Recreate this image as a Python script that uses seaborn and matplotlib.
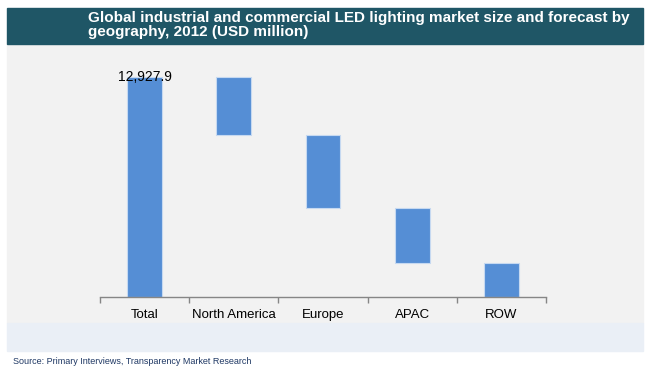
import numpy as np
import pandas as pd
import matplotlib
matplotlib.use('Agg')
import matplotlib.pyplot as plt
import seaborn as sns
from matplotlib.patches import Rectangle

# waterfall data (USD million)
regions = ['Total', 'North America', 'Europe', 'APAC', 'ROW']
total = 12927.9
shares = [3410.0, 4290.0, 3230.0, 1997.9]

# build floating bar bottoms/heights
heights = [total] + shares
bottoms = [0.0]
remaining = total
for s in shares:
    remaining -= s
    bottoms.append(remaining)

df = pd.DataFrame({'region': regions, 'height': heights, 'bottom': bottoms})

sns.set_style('white')
plt.rcParams['font.family'] = ['Liberation Sans', 'DejaVu Sans']

fig = plt.figure(figsize=(6.5, 3.76), dpi=100)
W, H = 650, 376

# background panels
fig.patches.append(Rectangle((7 / W, 1 - 323 / H), 636 / W, 279 / H,
                             transform=fig.transFigure, color='#f2f2f2', zorder=0))
fig.patches.append(Rectangle((7 / W, 1 - 351 / H), 636 / W, 28 / H,
                             transform=fig.transFigure, color='#eaeff6', zorder=0))
fig.patches.append(Rectangle((7 / W, 1 - 44 / H), 636 / W, 36 / H,
                             transform=fig.transFigure, color='#1f5666', zorder=0))

ax = fig.add_axes([100 / W, 1 - 297 / H, 446 / W, 237 / H])
ax.set_facecolor('none')
ax.set_zorder(2)

sns.barplot(data=df, x='region', y='height', bottom=df['bottom'].values,
            color='#558ed5', saturation=1, width=0.39,
            edgecolor='#c6d9f1', linewidth=0.8, ax=ax)

ax.set_ylim(0, total * 237 / 220)
ax.set_xlim(-0.5, len(regions) - 0.5)
ax.set_yticks([])
ax.set_xlabel('')
ax.set_ylabel('')
for sp in ['left', 'right', 'top']:
    ax.spines[sp].set_visible(False)
ax.spines['bottom'].set_color('#868686')
ax.spines['bottom'].set_linewidth(1)

ax.set_xticks(np.arange(len(regions)))
ax.set_xticklabels(regions, fontsize=9.5, color='black')
for lab in ax.get_xticklabels():
    lab.set_va('baseline')
ax.tick_params(axis='x', which='major', length=0, pad=15)
ax.set_xticks(np.arange(-0.5, len(regions)), minor=True)
ax.tick_params(axis='x', which='minor', bottom=True, length=4,
               color='#868686', width=1)

ax.text(0, total, f'{total:,.1f}', ha='center', va='center', fontsize=10,
        color='black')

fig.text(88 / W, 1 - 11 / H,
         'Global industrial and commercial LED lighting market size and forecast by\ngeography, 2012 (USD million)',
         ha='left', va='top', fontsize=11, fontweight='bold', color='white',
         linespacing=1.0, zorder=3)

fig.text(13 / W, 1 - 362 / H, 'Source: Primary Interviews, Transparency Market Research',
         ha='left', va='center', fontsize=6.5, color='#1f3864', zorder=3)

fig.savefig('out.png', dpi=100)
